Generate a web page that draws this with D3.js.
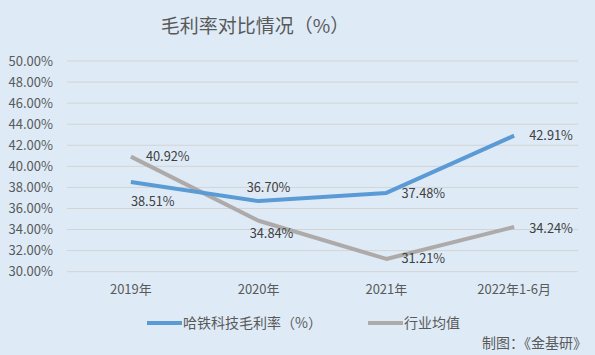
<!DOCTYPE html>
<html><head><meta charset="utf-8">
<script src="https://cdn.jsdelivr.net/npm/d3@7"></script>
<style>body{margin:0;background:#deebf7;}svg{display:block;}</style>
</head><body>
<svg id="c" width="595" height="355"></svg>
<script>
const categories = ["2019年", "2020年", "2021年", "2022年1-6月"];
const seriesNames = ["哈铁科技毛利率（%）", "行业均值"];
const hatie = [38.51, 36.70, 37.48, 42.91];
const industry = [40.92, 34.84, 31.21, 34.24];
const yTicks = [30, 32, 34, 36, 38, 40, 42, 44, 46, 48, 50];
const title = "毛利率对比情况（%）";
const source = "制图：《金基研》";

const font = "'Noto Sans CJK SC', 'Noto Sans', sans-serif";
const svg = d3.select("#c");
svg.append("rect").attr("width", 595).attr("height", 355).attr("fill", "#deebf7");

const x = d3.scaleBand().domain(categories).range([67, 578]);
const y = d3.scaleLinear().domain([30, 50]).range([271.7, 61]);

svg.append("text").attr("x", 255).attr("y", 33).attr("text-anchor", "middle")
  .attr("font-family", font).attr("font-size", 19).attr("fill", "#595959").text(title);

// grid
svg.append("g").selectAll("line").data(yTicks).join("line")
  .attr("x1", 67).attr("x2", 578)
  .attr("y1", d => y(d)).attr("y2", d => y(d))
  .attr("stroke", "#d3d3d3").attr("stroke-width", 1);

const yAxis = svg.append("g").attr("transform", "translate(67,0)")
  .call(d3.axisLeft(y).tickValues(yTicks).tickSize(0).tickPadding(14).tickFormat(d => d.toFixed(2) + "%"));
yAxis.select(".domain").remove();
yAxis.selectAll("text").attr("font-family", font).attr("font-size", 13).attr("fill", "#595959");

const xAxis = svg.append("g").attr("transform", "translate(0,280)")
  .call(d3.axisBottom(x).tickSize(0).tickPadding(5));
xAxis.select(".domain").remove();
xAxis.selectAll("text").attr("font-family", font).attr("font-size", 13).attr("fill", "#595959");

const cx = d => x(d) + x.bandwidth() / 2;
const line = d3.line().x((d, i) => cx(categories[i])).y(d => y(d));

const colors = ["#5b9bd5", "#aeaaaa"];
svg.append("path").datum(industry).attr("d", line).attr("fill", "none")
  .attr("stroke", colors[1]).attr("stroke-width", 4).attr("stroke-linejoin", "round");
svg.append("path").datum(hatie).attr("d", line).attr("fill", "none")
  .attr("stroke", colors[0]).attr("stroke-width", 4).attr("stroke-linejoin", "round");

// data labels: [dx, dy, anchor]
const hatiePos = [[0, 19, "start"], [-12, -14, "start"], [15, 1, "start"], [15, 0, "start"]];
const indPos = [[15, 0, "start"], [-9, 13, "start"], [15, 0, "start"], [15, 1, "start"]];
function labels(data, pos) {
  svg.append("g").selectAll("text").data(data).join("text")
    .attr("x", (d, i) => cx(categories[i]) + pos[i][0])
    .attr("y", (d, i) => y(d) + pos[i][1])
    .attr("dy", "0.35em")
    .attr("text-anchor", (d, i) => pos[i][2])
    .attr("font-family", font).attr("font-size", 12.8).attr("fill", "#404040")
    .text(d => d.toFixed(2) + "%");
}
labels(hatie, hatiePos);
labels(industry, indPos);

// legend
const legendX = [147, 368];
seriesNames.forEach((n, i) => {
  svg.append("line").attr("x1", legendX[i]).attr("x2", legendX[i] + 35)
    .attr("y1", 323).attr("y2", 323).attr("stroke", colors[i]).attr("stroke-width", 4);
  svg.append("text").attr("x", legendX[i] + 36).attr("y", 323).attr("dy", "0.35em")
    .attr("font-family", font).attr("font-size", 14).attr("fill", "#595959").text(n);
});

svg.append("text").attr("x", 587).attr("y", 343).attr("dy", "0.35em").attr("text-anchor", "end")
  .attr("font-family", font).attr("font-size", 14).attr("fill", "#595959").text(source);
</script>
</body></html>
